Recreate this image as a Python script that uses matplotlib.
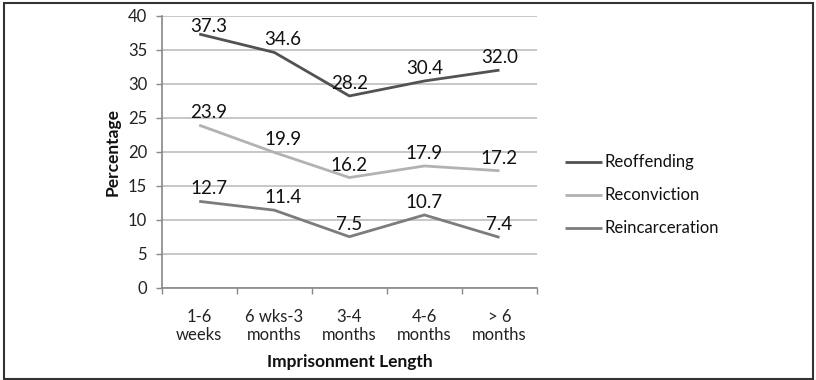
import matplotlib
matplotlib.use("Agg")
import matplotlib.pyplot as plt
from matplotlib.lines import Line2D
from matplotlib.patches import Rectangle

plt.rcParams['font.family'] = ['Lato', 'DejaVu Sans']

categories = ["1-6\nweeks", "6 wks-3\nmonths", "3-4\nmonths", "4-6\nmonths", "> 6\nmonths"]
reoffending = [37.3, 34.6, 28.2, 30.4, 32.0]
reconviction = [23.9, 19.9, 16.2, 17.9, 17.2]
reincarceration = [12.7, 11.4, 7.5, 10.7, 7.4]

series = [
    ("Reoffending", reoffending, "#525252"),
    ("Reconviction", reconviction, "#b2b2b2"),
    ("Reincarceration", reincarceration, "#7c7c7c"),
]

W, H = 816, 380
fig = plt.figure(figsize=(W / 100, H / 100), dpi=100)
ax = fig.add_axes([161.7 / W, 1 - 287.7 / H, (537 - 161.7) / W, (287.7 - 15.7) / H])

# horizontal nudge (points) of value labels in the first columns, where they sit right of the point
label_dx = [7, 6, 0, 0, 0]

x = list(range(len(categories)))
for name, vals, col in series:
    ax.plot(x, vals, color=col, lw=2.0, solid_capstyle='butt', zorder=3)
    for xi, v in zip(x, vals):
        dy = 5 if v < 36 else 1.5
        ax.annotate(f"{v:.1f}", (xi, v), xytext=(label_dx[xi], dy), textcoords='offset points',
                    ha='center', va='baseline', fontsize=13.5, color='#111111', zorder=4)

ax.set_xlim(-0.5, len(categories) - 0.5)
ax.set_ylim(0, 40)
ax.set_yticks(range(0, 41, 5))
ax.set_xticks(x)
ax.set_xticklabels(categories, fontsize=12, color='#222222', linespacing=1.2)
ax.set_xticks([i - 0.5 for i in range(len(categories) + 1)], minor=True)
ax.tick_params(axis='x', which='major', length=0, pad=15)
ax.tick_params(axis='x', which='minor', length=4.5, width=1, color='#888888', direction='out')
ax.tick_params(axis='y', length=4.5, width=1, color='#888888', labelsize=12, labelcolor='#222222', pad=6)
ax.grid(axis='y', color='#bdbdbd', lw=1.2)
ax.set_axisbelow(True)
for s in ['top', 'right']:
    ax.spines[s].set_visible(False)
for s in ['left', 'bottom']:
    ax.spines[s].set_color('#888888')
    ax.spines[s].set_linewidth(1.2)

ax.set_ylabel("Percentage", fontsize=12.5, fontweight='bold', color='#111111', labelpad=5)
ax.set_xlabel("Imprisonment Length", fontsize=12.5, fontweight='bold', color='#111111', labelpad=8)

# legend entries drawn beside the plot
for i, (name, vals, col) in enumerate(series):
    yy = 1 - (161.7 + 33.3 * i) / H
    fig.add_artist(Line2D([565 / W, 602 / W], [yy, yy], color=col, lw=2.0,
                          transform=fig.transFigure, solid_capstyle='butt'))
    fig.text(605 / W, yy, name, fontsize=12, va='center', ha='left', color='#111111')

fig.patches.append(Rectangle((4 / W, 1.5 / H), (W - 7) / W, (H - 4) / H, transform=fig.transFigure,
                             fill=False, edgecolor='#333333', lw=1.5))

fig.savefig("out.png", dpi=100)
